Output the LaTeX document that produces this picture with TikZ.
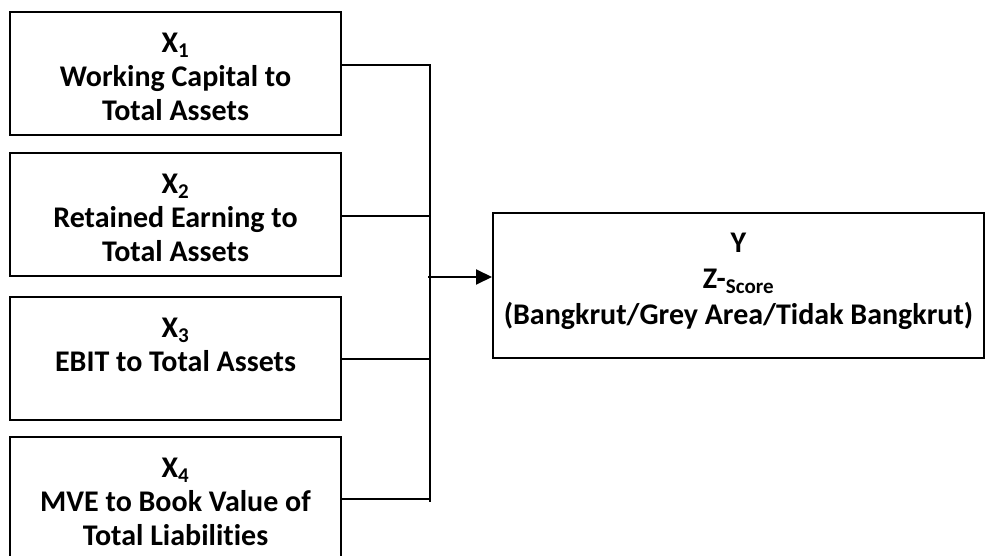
\documentclass[tikz,border=0pt]{standalone}
\usepackage{fontspec}
\setmainfont{Carlito}[Ligatures=NoCommon]
\usetikzlibrary{arrows.meta}
\begin{document}
\begin{tikzpicture}[x=1pt,y=-1pt,
  box/.style={draw=black,line width=2pt,inner sep=0pt},
  lbl/.style={font=\bfseries\fontsize{30}{34}\selectfont,align=center,inner sep=0pt},
  wire/.style={line width=2pt},
  arr/.style={line width=2pt,-{Triangle[length=16pt,width=15pt]}}]
\useasboundingbox (0,0) rectangle (985,556);
\clip (0,0) rectangle (985,556);
% boxes
\node[box,minimum width=331pt,minimum height=123pt] (b1) at (175.5,73.5) {};
\node[box,minimum width=331pt,minimum height=123pt] (b2) at (175.5,214.5) {};
\node[box,minimum width=331pt,minimum height=123pt] (b3) at (175.5,358.5) {};
\node[box,minimum width=331pt,minimum height=133pt] (b4) at (175.5,503.5) {};
\node[box,minimum width=491pt,minimum height=145pt] (y) at (738.5,285.5) {};
% labels
\node[lbl] (t1) at (175.5,76.5) {X\textsubscript{1}\\Working Capital to\\Total Assets};
\node[lbl] (t2) at (175.5,217.5) {X\textsubscript{2}\\Retained Earning to\\Total Assets};
\node[lbl] (t3) at (175.5,344.5) {X\textsubscript{3}\\EBIT to Total Assets};
\node[lbl] (t4) at (175.5,501.5) {X\textsubscript{4}\\MVE to Book Value of\\Total Liabilities};
\node[lbl,font=\bfseries\fontsize{30}{36}\selectfont] (ty) at (738.5,281.5) {Y\\Z-\textsubscript{Score}\\(Bangkrut/Grey Area/Tidak Bangkrut)};
% junctions
\coordinate (j1) at (430,65);
\coordinate (j2) at (430,216);
\coordinate (j3) at (430,359);
\coordinate (j4) at (430,499);
\coordinate (jend) at (430,502);
\coordinate (ja) at (428,277);
% connectors
\draw[wire] (b1.east |- j1) -- (j1) -- (jend);
\draw[wire] (b2.east |- j2) -- (j2);
\draw[wire] (b3.east |- j3) -- (j3);
\draw[wire] (b4.east |- j4) -- (j4);
\draw[arr] (ja) -- (y.west |- ja);
\end{tikzpicture}
\end{document}
